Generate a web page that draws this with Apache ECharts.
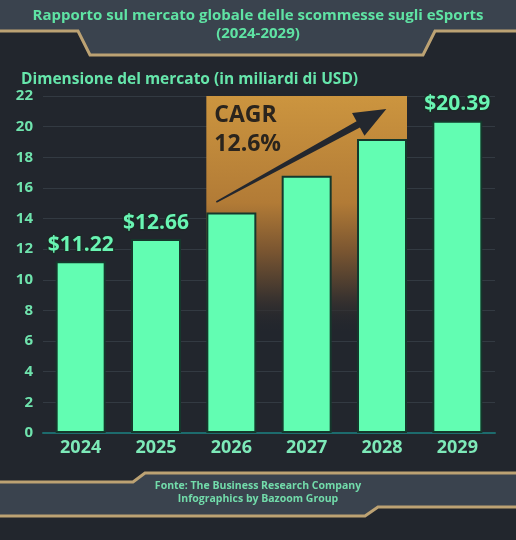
<!DOCTYPE html>
<html>
<head>
<meta charset="utf-8">
<script src="https://cdn.jsdelivr.net/npm/echarts@6/dist/echarts.min.js"></script>
<style>
  html, body { margin: 0; padding: 0; background: #22262d; }
  #chart { width: 516px; height: 540px; }
</style>
</head>
<body>
<div id="chart"></div>
<script>
const years = ["2024", "2025", "2026", "2027", "2028", "2029"];
const marketSize = [11.22, 12.66, 14.4, 16.8, 19.2, 20.39];
const valueLabels = ["$11.22", "$12.66", "", "", "", "$20.39"];
const yMin = 0;
const yMax = 22;
const yStep = 2;
const cagrText = ["CAGR", "12.6%"];
const titleLines = ["Rapporto sul mercato globale delle scommesse sugli eSports", "(2024-2029)"];
const footerLines = ["Fonte: The Business Research Company", "Infographics by Bazoom Group"];

const FONT = "'Open Sans', sans-serif";
const GREEN = "#66e6ab";
const GOLD = "#bca273";
const SLATE = "#3a434e";

const chart = echarts.init(document.getElementById("chart"));

chart.setOption({
  backgroundColor: "#22262d",
  animation: false,
  title: {
    text: "Dimensione del mercato (in miliardi di USD)",
    left: 16,
    top: 67,
    textStyle: { fontFamily: FONT, fontSize: 15.5, fontWeight: "bold", color: GREEN },
  },
  grid: { left: 43, right: 21, top: 96, bottom: 107 },
  xAxis: {
    type: "category",
    data: years,
    axisTick: { show: false },
    axisLine: { lineStyle: { color: "#1d6b6d", width: 2 } },
    axisLabel: { fontFamily: FONT, fontSize: 18, fontWeight: "bold", color: "#7de9b8", margin: 6 },
  },
  yAxis: {
    type: "value",
    min: yMin,
    max: yMax,
    interval: yStep,
    axisLine: { show: false },
    axisTick: { show: false },
    axisLabel: { fontFamily: FONT, fontSize: 15, fontWeight: "bold", color: "#6fe3ad", margin: 10 },
    splitLine: { lineStyle: { color: "#333a42", width: 1 } },
  },
  series: [
    {
      type: "bar",
      data: marketSize,
      barWidth: 50,
      itemStyle: { color: "#62fdb2", borderColor: "#15382c", borderWidth: 2 },
      label: {
        show: true,
        position: "top",
        distance: 6,
        formatter: (p) => valueLabels[p.dataIndex],
        fontFamily: FONT,
        fontSize: 21,
        fontWeight: "bold",
        color: "#69f5b3",
        textBorderColor: "#1c2a27",
        textBorderWidth: 3,
      },
    },
  ],
});

// decorations: header / footer bands, CAGR box + arrow
const W = 516;
const x0 = chart.convertToPixel({ gridIndex: 0 }, [2, 0])[0] - 25;
const x1 = chart.convertToPixel({ gridIndex: 0 }, [4, 0])[0] + 25;
const yTop = chart.convertToPixel({ gridIndex: 0 }, [0, yMax])[1];
const yBot = chart.convertToPixel({ gridIndex: 0 }, [0, 6.5])[1];

const tail = [x0 + 10, yTop + 106];
const tip = [x0 + 180, yTop + 13];
const dx = tip[0] - tail[0], dy = tip[1] - tail[1];
const len = Math.hypot(dx, dy);
const u = [dx / len, dy / len];
const n = [-u[1], u[0]];
const base = [tip[0] - 32 * u[0], tip[1] - 32 * u[1]];
const off = (p, k) => [p[0] + k * n[0], p[1] + k * n[1]];
const arrowPts = [off(tail, -0.8), off(base, -3.5), off(base, -13), tip, off(base, 13), off(base, 3.5), off(tail, 0.8)];

chart.setOption({
  graphic: [
    {
      type: "polygon", z: -10,
      shape: { points: [[0, 0], [W, 0], [W, 31], [435, 31], [423, 55], [90, 55], [78, 31], [0, 31]] },
      style: { fill: SLATE },
    },
    {
      type: "polyline", z: -9,
      shape: { points: [[0, 31], [78, 31], [90, 55], [423, 55], [435, 31], [W, 31]] },
      style: { stroke: GOLD, lineWidth: 3, fill: null },
    },
    {
      type: "polygon", z: -10,
      shape: { points: [[0, 482], [133, 482], [145, 473], [W, 473], [W, 507], [378, 507], [365, 516], [0, 516]] },
      style: { fill: SLATE },
    },
    {
      type: "polyline", z: -9,
      shape: { points: [[0, 482], [133, 482], [145, 473], [W, 473]] },
      style: { stroke: GOLD, lineWidth: 3, fill: null },
    },
    {
      type: "polyline", z: -9,
      shape: { points: [[0, 516], [365, 516], [378, 507], [W, 507]] },
      style: { stroke: GOLD, lineWidth: 3, fill: null },
    },
    {
      type: "text", z: 5,
      x: W / 2, y: 7,
      style: {
        text: titleLines.join("\n"),
        font: "bold 15px 'Open Sans', sans-serif",
        lineHeight: 18,
        align: "center",
        fill: "#5fe3a4",
      },
    },
    {
      type: "text", z: 5,
      x: W / 2, y: 480,
      style: {
        text: footerLines.join("\n"),
        font: "bold 10.5px 'Open Sans', sans-serif",
        lineHeight: 13,
        align: "center",
        fill: "#72dcab",
      },
    },
    {
      type: "rect", z: 1,
      shape: { x: x0, y: yTop, width: x1 - x0, height: yBot - yTop },
      style: {
        fill: new echarts.graphic.LinearGradient(0, 0, 0, 1, [
          { offset: 0, color: "#cc953f" },
          { offset: 0.45, color: "#b27b36" },
          { offset: 0.65, color: "#7b5631" },
          { offset: 0.85, color: "#3a332f" },
          { offset: 1, color: "rgba(34,38,45,0)" },
        ]),
      },
    },
    {
      type: "polygon", z: 1,
      shape: { points: arrowPts },
      style: { fill: "#23272e" },
    },
    {
      type: "text", z: 1,
      x: x0 + 8, y: yTop + 5,
      style: {
        text: cagrText.join("\n"),
        font: "bold 23px 'Open Sans', sans-serif",
        lineHeight: 29,
        fill: "#2a241d",
      },
    },
  ],
});
</script>
</body>
</html>
